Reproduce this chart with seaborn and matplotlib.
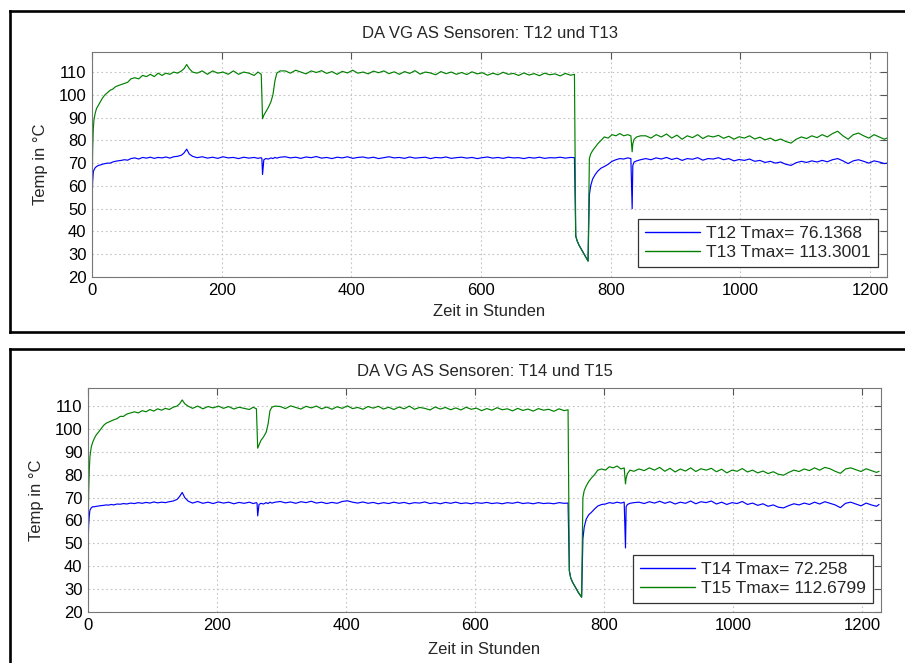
import numpy as np
import pandas as pd
import matplotlib
matplotlib.use("Agg")
import matplotlib.pyplot as plt
import seaborn as sns
from matplotlib.lines import Line2D

# Measurement times (hours) shared by all four sensors
stunden = [
    0, 1, 2, 3, 5, 7, 10, 13, 16, 20,
    24, 28, 32, 36, 40, 45, 50, 55, 60, 66,
    72, 78, 84, 90, 96, 102, 108, 114, 120, 126,
    132, 138, 142, 146, 150, 155, 162, 170, 178, 186,
    194, 202, 210, 218, 226, 234, 242, 250, 256, 261,
    262, 263, 265, 268, 272, 276, 279, 282, 285, 290,
    298, 306, 314, 322, 330, 338, 346, 354, 362, 370,
    378, 386, 394, 402, 410, 418, 426, 434, 442, 450,
    458, 466, 474, 482, 490, 498, 506, 514, 522, 530,
    538, 546, 554, 562, 570, 578, 586, 594, 602, 610,
    618, 626, 634, 642, 650, 658, 666, 674, 682, 690,
    698, 706, 714, 722, 730, 738, 744, 746, 748, 751,
    755, 760, 765, 767, 769, 772, 776, 780, 785, 790,
    796, 802, 808, 814, 820, 826, 831, 833, 834, 836,
    840, 846, 854, 862, 870, 878, 886, 894, 902, 910,
    918, 926, 934, 942, 950, 958, 966, 974, 982, 990,
    998, 1006, 1014, 1022, 1030, 1038, 1046, 1054, 1062, 1070,
    1078, 1086, 1094, 1102, 1110, 1118, 1126, 1134, 1142, 1150,
    1158, 1166, 1174, 1182, 1190, 1198, 1206, 1214, 1222, 1226,
]

T12 = [
    52, 62, 66, 67, 68, 68.5, 69, 69.2, 69.5, 69.8,
    70, 70, 70.5, 70.8, 71, 71.2, 71.5, 71.3, 72, 72.3,
    71.8, 72.5, 72.2, 72.6, 72.1, 72.5, 72.3, 72.7, 72.2, 72.8,
    73, 73.5, 74.5, 76.1368, 74, 73, 72.4, 72.8, 72.2, 72.6,
    72.1, 72.8, 72.3, 72.5, 72, 72.6, 72.2, 72.5, 72.1, 72.4,
    72, 65, 71.5, 72, 71.8, 72.3, 72, 72.5, 72.2, 72.6,
    72.8, 72.3, 72.6, 72.1, 72.7, 72.4, 72.9, 72.2, 72.5, 72.0,
    72.6, 72.3, 72.8, 72.1, 72.5, 72.7, 72.2, 72.6, 72.0, 72.4,
    72.8, 72.3, 72.5, 72.1, 72.7, 72.2, 72.4, 72.6, 72.0, 72.5,
    72.3, 72.7, 72.1, 72.4, 72.6, 72.2, 72.5, 72.0, 72.4, 72.7,
    72.2, 72.5, 72.1, 72.6, 72.3, 72.4, 72.0, 72.5, 72.2, 72.6,
    72.1, 72.4, 72.3, 72.6, 72.2, 72.5, 72.4, 38, 36, 34,
    32, 29.5, 27, 56, 60, 63, 65, 66.5, 67.8, 68.5,
    69.5, 70.8, 71.5, 72, 71.8, 72.3, 72, 50, 69, 70.5,
    71, 71.5, 72, 71.5, 72.3, 71.8, 72.5, 71.6, 72.2, 71.2,
    72, 71.7, 72.4, 71.3, 72, 71.8, 72.4, 71.5, 72, 71,
    71.6, 71.2, 71.8, 70.8, 71.2, 70.3, 70.8, 70, 70.5, 69.5,
    69, 70.2, 70.8, 70.3, 71, 70.5, 71.2, 70.6, 71.5, 72,
    71, 69.8, 71, 71.5, 70.8, 70, 71, 70.5, 69.8, 70,
]

T13 = [
    55, 76, 85, 89, 92, 94, 95.5, 97, 98.5, 100,
    101, 102, 102.5, 103.5, 104, 104.5, 105, 105.5, 107, 107.5,
    107, 108.5, 108, 109, 108, 109.5, 108.5, 109.5, 109, 110,
    109.5, 110.5, 111.5, 113.3001, 111.5, 110, 109.5, 110.5, 109, 110.5,
    109.5, 110, 109, 110.5, 109, 110, 109.5, 108.5, 110, 109,
    100, 89.5, 91, 92.5, 94.5, 97, 100, 106, 109.5, 110.5,
    110.5, 109.5, 110.8, 110, 109.2, 110.5, 109.8, 110.6, 109.4, 110.2,
    109, 110.3, 109.6, 110.8, 109.5, 110, 109.2, 110.4, 109.7, 110.5,
    109.3, 110.1, 109, 110.2, 109.4, 110.6, 109.1, 110, 109.6, 108.8,
    110.2, 109.3, 110, 109, 109.8, 108.9, 110.1, 109.2, 109.7, 108.6,
    109.5, 108.8, 109.9, 109, 109.4, 108.5, 109.6, 108.7, 109.3, 108.4,
    109.5, 108.8, 109.2, 108.3, 109.4, 108.6, 109, 38, 36, 34,
    32, 29.5, 27, 72, 74, 75.5, 77, 78.5, 80, 81.5,
    81, 82.5, 82, 83, 82, 82.5, 82, 75, 78.5, 80.5,
    81.5, 82, 82, 81, 82.5, 81.5, 82.8, 81, 82.3, 80.5,
    82, 81.2, 82.5, 80.8, 82, 81.5, 82.2, 80.9, 81.8, 80.5,
    81.6, 81, 82, 80.6, 81.4, 80.2, 81, 79.8, 80.6, 79.5,
    78.8, 80.5, 81.5, 80.8, 82, 81.2, 82.5, 81.5, 83, 84,
    82, 80.5, 82.5, 83.2, 82, 81, 82.5, 81.5, 80.5, 81,
]

T14 = [
    48, 58, 62, 64.5, 65.5, 66, 66, 66.2, 66.3, 66.5,
    66.6, 66.8, 66.7, 67, 66.8, 67.2, 67.1, 67.4, 67.2, 67.6,
    67.4, 67.8, 67.5, 67.9, 67.6, 68.1, 67.7, 68, 67.8, 68.2,
    68.5, 69.2, 70.5, 72.258, 70, 68.5, 67.6, 68.3, 67.5, 68,
    67.4, 68.1, 67.6, 68, 67.3, 67.9, 67.5, 68, 67.4, 67.8,
    67.5, 62, 67, 67.5, 67.2, 67.8, 67.4, 68, 67.6, 68,
    68.3, 67.7, 68.1, 67.5, 68.2, 67.8, 68.4, 67.6, 68, 67.4,
    67.9, 67.5, 68.3, 68.6, 68, 67.6, 68.1, 67.5, 67.9, 67.3,
    67.8, 67.4, 68, 67.5, 67.9, 67.3, 67.8, 67.6, 68.1, 67.4,
    67.8, 67.3, 67.9, 67.5, 68, 67.4, 67.7, 67.3, 67.8, 67.5,
    67.9, 67.4, 67.7, 67.3, 67.8, 67.5, 68, 67.4, 67.7, 67.3,
    67.8, 67.4, 67.6, 67.3, 67.8, 67.5, 67.6, 38, 35, 33,
    31, 28.5, 26.5, 52, 57, 60.5, 62.5, 63.5, 65, 66.3,
    67, 67.2, 67.8, 67.5, 68, 67.6, 68, 48, 66, 67,
    67.5, 67.8, 68, 67.4, 68.2, 67.6, 68.4, 67.5, 68.2, 67.2,
    68, 67.5, 68.5, 67.3, 68.2, 67.8, 68.5, 67.2, 68, 67,
    67.8, 67.4, 68.3, 67, 67.6, 66.6, 67.3, 66.2, 66.8, 65.8,
    65.5, 66.5, 67.3, 66.8, 67.6, 67, 68, 67.2, 68.2, 67.5,
    66.8, 65.6, 67.5, 68, 67.2, 66.4, 67.6, 66.8, 66.2, 67,
]

T15 = [
    50, 72, 82, 88, 92, 94, 96, 97.5, 98.5, 100,
    101.5, 102.5, 103, 103.5, 104, 104.5, 105.5, 105.5, 106.5, 107,
    107.5, 107, 108, 107.5, 108.5, 107.8, 108.8, 108.2, 109, 108.5,
    109.5, 110, 111, 112.6799, 111, 110, 109, 110, 108.8, 109.8,
    109.2, 110, 109, 109.8, 108.7, 109.5, 109, 108.5, 109.5, 108.8,
    100, 91.6, 93, 95, 96.5, 98.5, 102, 108, 109.5, 110,
    109.8, 108.9, 110.1, 109.4, 108.7, 109.9, 109.2, 110, 108.8, 109.6,
    108.6, 109.7, 109, 110.1, 108.9, 109.4, 108.6, 109.8, 109.1, 109.9,
    108.7, 109.5, 108.5, 109.6, 108.8, 110, 108.6, 109.4, 109, 108.3,
    109.6, 108.7, 109.4, 108.4, 109.2, 108.3, 109.5, 108.6, 109.1, 108,
    108.9, 108.2, 109.3, 108.4, 108.8, 107.9, 109, 108.1, 108.7, 107.8,
    108.9, 108.2, 108.6, 107.7, 108.8, 108, 108.4, 38, 35, 33,
    31, 28.5, 26.5, 70, 73, 75, 77, 78.5, 80, 82,
    82.5, 82, 83.5, 83, 83.8, 82.5, 83, 76, 78.5, 80.5,
    82, 81.5, 82.5, 81.8, 83, 82, 83.2, 81.5, 82.8, 81.2,
    82.5, 81.6, 83, 81.4, 82.6, 82, 82.8, 81.3, 82.4, 80.8,
    82, 81.5, 82.7, 81.2, 82, 80.8, 81.6, 80.5, 81.3, 80.2,
    79.8, 81, 82, 81.4, 82.5, 81.8, 83, 82, 83.2, 82.6,
    81.5, 80.6, 82.5, 83, 82.2, 81.4, 82.6, 81.8, 81, 81.5,
]

x_ticks = [0, 200, 400, 600, 800, 1000, 1200]
y_ticks = [20, 30, 40, 50, 60, 70, 80, 90, 100, 110]

sns.set_style("white")
plt.rcParams["font.family"] = ["Liberation Sans", "DejaVu Sans"]

W, H = 905, 663
fig = plt.figure(figsize=(W / 100, H / 100), dpi=100)

BLUE = "#0000ff"
GREEN = "#008000"


def fig_line(x0, y0, x1, y1, lw=1.9):
    fig.add_artist(Line2D([x0 / W, x1 / W], [1 - y0 / H, 1 - y1 / H],
                          transform=fig.transFigure, color="black",
                          lw=lw, solid_capstyle="projecting"))


def tmax_label(name, values):
    return f"{name} Tmax= " + f"{max(values):.4f}".rstrip("0").rstrip(".")


panels = [
    dict(box=(92, 52, 887, 277), xmax=1226, ymax=118.8,
         names=("T12", "T13"), series=(T12, T13),
         title="DA VG AS Sensoren: T12 und T13",
         title_y=33, xlabel_y=312, ylabel_x=40,
         leg_gap=(9, 10)),
    dict(box=(88, 388, 881, 612), xmax=1229, ymax=117.9,
         names=("T14", "T15"), series=(T14, T15),
         title="DA VG AS Sensoren: T14 und T15",
         title_y=372, xlabel_y=649, ylabel_x=36,
         leg_gap=(8, 9)),
]

for p in panels:
    l, t, r, b = p["box"]
    ax = fig.add_axes([l / W, 1 - b / H, (r - l) / W, (b - t) / H])
    df = pd.DataFrame({"Stunden": stunden,
                       p["names"][0]: p["series"][0],
                       p["names"][1]: p["series"][1]})
    for name, col in zip(p["names"], (BLUE, GREEN)):
        sns.lineplot(data=df, x="Stunden", y=name, ax=ax, color=col,
                     lw=0.85, label=tmax_label(name, df[name]))

    ax.set_xlim(0, p["xmax"])
    ax.set_ylim(20, p["ymax"])
    ax.set_xticks(x_ticks)
    ax.set_yticks(y_ticks)
    ax.set_xlabel("")
    ax.set_ylabel("")
    ax.grid(True, linestyle=(0, (1.5, 2.5)), color="#c4c4c4", lw=0.8)
    ax.tick_params(direction="in", length=5, width=0.8, color="#555555",
                   top=True, right=True, labelsize=12, pad=4,
                   labelcolor="black")
    for s in ax.spines.values():
        s.set_color("#777777")
        s.set_linewidth(0.8)

    cx = (l + r) / 2
    fig.text(cx / W, 1 - p["title_y"] / H, p["title"], ha="center",
             va="center", fontsize=12)
    fig.text(cx / W, 1 - p["xlabel_y"] / H, "Zeit in Stunden", ha="center",
             va="center", fontsize=12)
    fig.text(p["ylabel_x"] / W, 1 - ((t + b) / 2) / H, "Temp in °C",
             ha="center", va="center", rotation=90, fontsize=12)

    gx, gy = p["leg_gap"]
    leg = ax.legend(loc="lower right",
                    bbox_to_anchor=(1 - gx / (r - l), gy / (b - t)),
                    borderaxespad=0, fontsize=12.5, frameon=True,
                    fancybox=False, edgecolor="#333333", framealpha=1,
                    handlelength=3.2, handletextpad=0.35, labelspacing=0.2,
                    borderpad=0.4)
    leg.get_frame().set_linewidth(0.9)
    for h in leg.get_lines():
        h.set_linewidth(1.0)

# outer window frames
fig_line(10, 10.5, 915, 10.5)
fig_line(10, 10.5, 10, 332)
fig_line(10, 332, 915, 332)
fig_line(10, 349, 915, 349)
fig_line(10, 349, 10, 680)

fig.savefig("out.png", dpi=100)
